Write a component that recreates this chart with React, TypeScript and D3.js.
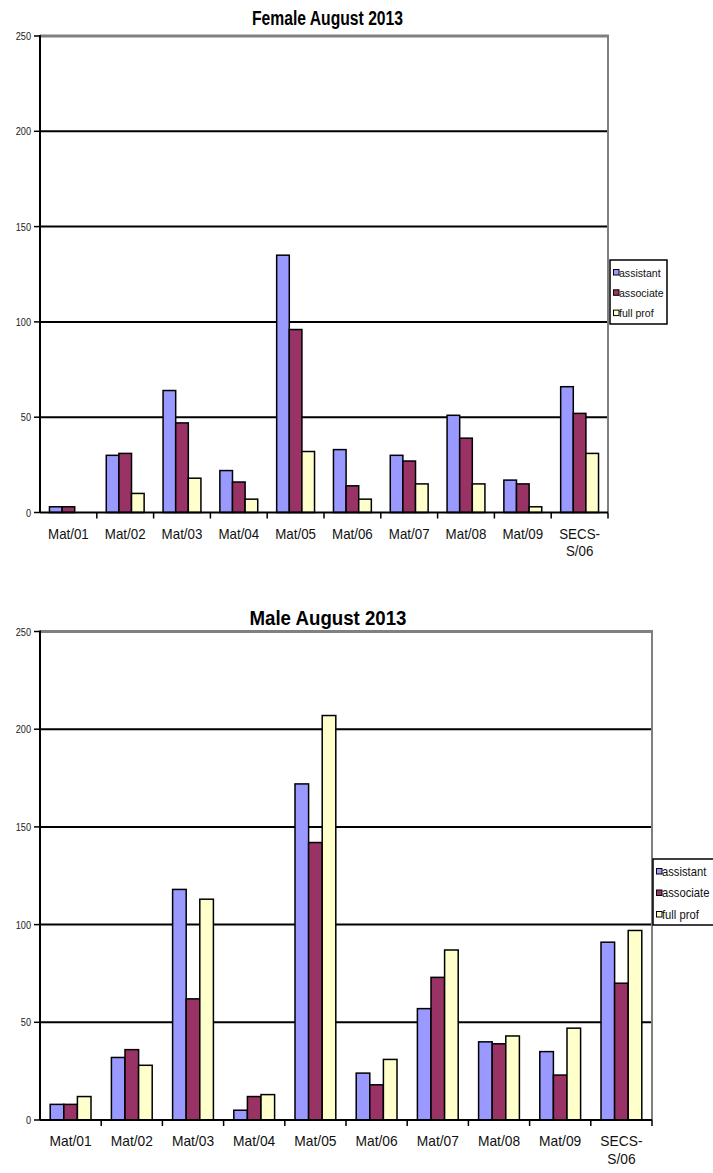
import { scaleBand, scaleLinear } from 'd3';
import React from 'react';

const categories = ['Mat/01', 'Mat/02', 'Mat/03', 'Mat/04', 'Mat/05', 'Mat/06', 'Mat/07', 'Mat/08', 'Mat/09', 'SECS-S/06'];
const seriesNames = ['assistant', 'associate', 'full prof'];
const seriesColors = ['#9999ff', '#993366', '#ffffcc'];
const yTicks = [0, 50, 100, 150, 200, 250];

const femaleAssistant = [3, 30, 64, 22, 135, 33, 30, 51, 17, 66];
const femaleAssociate = [3, 31, 47, 16, 96, 14, 27, 39, 15, 52];
const femaleFull = [0, 10, 18, 7, 32, 7, 15, 15, 3, 31];

const maleAssistant = [8, 32, 118, 5, 172, 24, 57, 40, 35, 91];
const maleAssociate = [8, 36, 62, 12, 142, 18, 73, 39, 23, 70];
const maleFull = [12, 28, 113, 13, 207, 31, 87, 43, 47, 97];

type Layout = {
  title: string;
  titleX: number;
  titleY: number;
  titleLen: number;
  x0: number;
  x1: number;
  yTop: number;
  yZero: number;
  labelY: number;
  labelSize: number;
  legendX: number;
  legendY: number;
  legendW: number;
  legendH: number;
  legendSize: number;
  legendSx: number;
  legendGap: number;
};

const font = '"Liberation Sans", Arial, sans-serif';

const Panel = ({ layout, values }: { layout: Layout; values: number[][] }) => {
  const x = scaleBand<string>().domain(categories).range([layout.x0, layout.x1]).padding(0);
  const step = x.step();
  const inner = scaleBand<string>()
    .domain(seriesNames)
    .range([step * (0.75 / 4.5), step * (1 - 0.75 / 4.5)])
    .padding(0);
  const y = scaleLinear().domain([0, 250]).range([layout.yZero, layout.yTop]);

  return (
    <g>
      <text
        x={layout.titleX}
        y={layout.titleY}
        textAnchor="middle"
        fontFamily={font}
        fontWeight="bold"
        fontSize={20}
        textLength={layout.titleLen}
        lengthAdjust="spacingAndGlyphs"
      >
        {layout.title}
      </text>

      {/* grid lines */}
      {yTicks.slice(1, -1).map((t) => (
        <line key={t} x1={layout.x0} x2={layout.x1} y1={y(t)} y2={y(t)} stroke="#000" strokeWidth={2} />
      ))}
      <line x1={layout.x0} x2={layout.x1 + 1} y1={y(250)} y2={y(250)} stroke="#808080" strokeWidth={3} />
      <line x1={layout.x1} x2={layout.x1} y1={y(250)} y2={layout.yZero} stroke="#808080" strokeWidth={2} />

      {/* bars */}
      {categories.map((c, i) => (
        <g key={c} transform={`translate(${x(c)},0)`}>
          {seriesNames.map((s, j) =>
            values[j][i] > 0 ? (
              <rect
                key={s}
                x={inner(s)}
                y={y(values[j][i])}
                width={inner.bandwidth()}
                height={layout.yZero - y(values[j][i])}
                fill={seriesColors[j]}
                stroke="#000"
                strokeWidth={1.5}
              />
            ) : null
          )}
        </g>
      ))}

      {/* y axis */}
      <line x1={layout.x0} x2={layout.x0} y1={y(250) - 1} y2={layout.yZero} stroke="#000" strokeWidth={2} />
      {yTicks.map((t) => (
        <g key={t}>
          <line x1={layout.x0 - 6} x2={layout.x0} y1={y(t)} y2={y(t)} stroke="#000" strokeWidth={1.5} />
          <text
            transform={`translate(${layout.x0 - 9},${y(t) + 4}) scale(0.8,1)`}
            textAnchor="end"
            fontFamily={font}
            fontSize={11.5}
            fill="#222"
          >
            {t}
          </text>
        </g>
      ))}

      {/* x axis */}
      <line x1={layout.x0} x2={layout.x1} y1={layout.yZero} y2={layout.yZero} stroke="#000" strokeWidth={2} />
      {categories.map((c, i) => (
        <line
          key={c}
          x1={layout.x0 + step * (i + 1)}
          x2={layout.x0 + step * (i + 1)}
          y1={layout.yZero}
          y2={layout.yZero + 6}
          stroke="#000"
          strokeWidth={1.5}
        />
      ))}
      {categories.map((c) => {
        const cut = c.indexOf('-');
        const lines = cut >= 0 ? [c.slice(0, cut + 1), c.slice(cut + 1)] : [c];
        return lines.map((ln, k) => (
          <text
            key={c + k}
            transform={`translate(${(x(c) as number) + step / 2},${layout.labelY + k * layout.labelSize * 1.2}) scale(0.92,1)`}
            textAnchor="middle"
            fontFamily={font}
            fontSize={layout.labelSize}
            fill="#111"
          >
            {ln}
          </text>
        ));
      })}

      {/* legend */}
      <rect
        x={layout.legendX}
        y={layout.legendY}
        width={layout.legendW}
        height={layout.legendH}
        fill="#fff"
        stroke="#000"
        strokeWidth={1.5}
      />
      {seriesNames.map((s, j) => {
        const cy = layout.legendY + 12.5 + j * layout.legendGap;
        return (
          <g key={s}>
            <rect x={layout.legendX + 3.5} y={cy - 3} width={5.5} height={5.5} fill={seriesColors[j]} stroke="#000" strokeWidth={1} />
            <text
              transform={`translate(${layout.legendX + 9},${cy + 4}) scale(${layout.legendSx},1)`}
              fontFamily={font}
              fontSize={layout.legendSize}
              fill="#111"
            >
              {s}
            </text>
          </g>
        );
      })}
    </g>
  );
};

const femaleLayout: Layout = {
  title: 'Female August 2013',
  titleX: 327.5,
  titleY: 25,
  titleLen: 151,
  x0: 40,
  x1: 608,
  yTop: 36,
  yZero: 512.5,
  labelY: 539,
  labelSize: 14.5,
  legendX: 610,
  legendY: 260,
  legendW: 57,
  legendH: 64,
  legendSize: 11,
  legendSx: 0.96,
  legendGap: 20.3,
};

const maleLayout: Layout = {
  title: 'Male August 2013',
  titleX: 328,
  titleY: 625,
  titleLen: 157,
  x0: 40,
  x1: 652,
  yTop: 631.5,
  yZero: 1120,
  labelY: 1146,
  labelSize: 15,
  legendX: 653,
  legendY: 859,
  legendW: 62,
  legendH: 66,
  legendSize: 12.5,
  legendSx: 0.9,
  legendGap: 21.5,
};

const App = () => {
  return (
    <svg width={713} height={1173} style={{ position: 'absolute', left: 0, top: 0, background: '#fff' }}>
      <rect width={713} height={1173} fill="#fff" />
      <Panel layout={femaleLayout} values={[femaleAssistant, femaleAssociate, femaleFull]} />
      <Panel layout={maleLayout} values={[maleAssistant, maleAssociate, maleFull]} />
    </svg>
  );
};

export default App;
